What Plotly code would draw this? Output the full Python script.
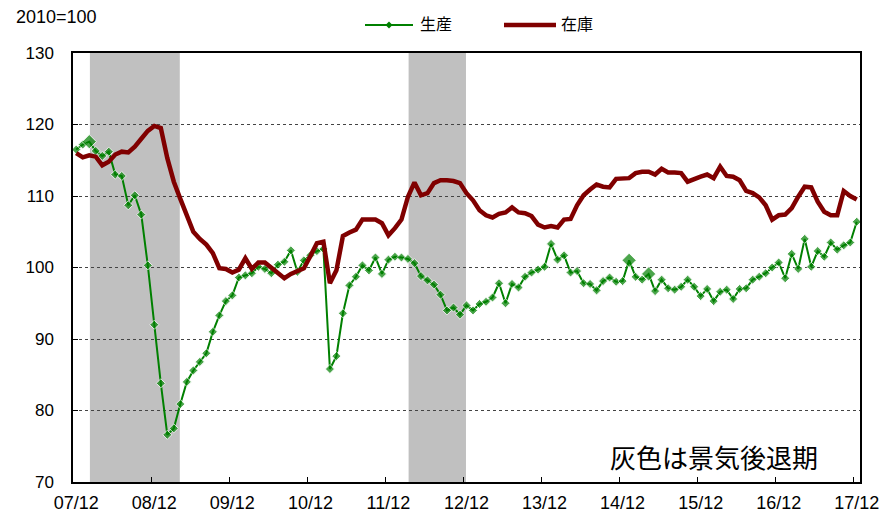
import plotly.graph_objects as go

# Monthly categories Dec 2007 .. Dec 2017
months = [f"{(2007 * 12 + 11 + i) // 12 % 100:02d}/{(11 + i) % 12 + 1:02d}" for i in range(121)]

production = [
    116.5, 117.2, 117.6, 116.3, 115.6, 116.2, 113.0, 112.8, 108.7, 110.1,
    107.4, 100.3, 92.0, 83.8, 76.6, 77.5, 80.9, 84.0, 85.6, 86.8,
    88.0, 91.0, 93.3, 95.3, 96.1, 98.6, 98.9, 99.2, 100.1, 99.8,
    99.2, 100.4, 100.8, 102.4, 99.4, 101.0, 101.7, 102.3, 102.6, 85.8,
    87.6, 93.6, 97.5, 98.7, 100.3, 99.6, 101.4, 99.1, 101.1, 101.5,
    101.4, 101.2, 100.6, 98.8, 98.2, 97.6, 96.2, 94.0, 94.4, 93.4,
    94.7, 94.0, 94.9, 95.2, 95.8, 97.8, 95.0, 97.7, 97.2, 98.7,
    99.3, 99.7, 100.1, 103.3, 101.1, 101.7, 99.3, 99.5, 97.8, 97.7,
    96.8, 98.1, 98.6, 98.0, 98.1, 101.0, 98.7, 98.3, 99.1, 96.7,
    98.3, 97.1, 96.9, 97.3, 98.3, 97.3, 96.0, 97.0, 95.3, 96.6,
    96.9, 95.6, 97.0, 97.1, 98.3, 98.7, 99.2, 100.0, 100.7, 98.5,
    101.9, 99.8, 104.0, 100.1, 102.3, 101.5, 103.5, 102.5, 103.1, 103.5,
    106.4,
]

inventory = [
    116.0, 115.4, 115.7, 115.5, 114.3, 114.8, 115.8, 116.2, 116.1, 116.9,
    118.0, 119.1, 119.8, 119.5, 115.3, 112.0, 109.6, 107.3, 105.0, 104.0,
    103.2, 102.0, 99.9, 99.8, 99.3, 99.7, 101.3, 99.8, 100.7, 100.7,
    99.9, 99.1, 98.5, 99.1, 99.5, 99.9, 101.6, 103.4, 103.6, 97.8,
    99.6, 104.4, 104.9, 105.3, 106.7, 106.7, 106.7, 106.2, 104.5, 105.5,
    106.7, 109.9, 111.9, 110.1, 110.4, 111.8, 112.2, 112.2, 112.1, 111.8,
    110.4, 109.4, 108.0, 107.3, 107.0, 107.5, 107.7, 108.4, 107.7, 107.6,
    107.2, 106.0, 105.6, 105.8, 105.6, 106.7, 106.8, 108.7, 110.1, 110.9,
    111.6, 111.3, 111.2, 112.4, 112.4, 112.5, 113.2, 113.4, 113.4, 113.0,
    113.8, 113.3, 113.3, 113.2, 112.0, 112.4, 112.7, 113.0, 112.5, 114.1,
    112.8, 112.7, 112.2, 110.7, 110.4, 109.8, 108.7, 106.7, 107.3, 107.4,
    108.3, 109.9, 111.3, 111.2, 109.2, 107.8, 107.3, 107.3, 110.7, 110.0,
    109.5,
]

tick_labels = ["07/12", "08/12", "09/12", "10/12", "11/12", "12/12",
               "13/12", "14/12", "15/12", "16/12", "17/12"]

series_names = ["生産", "在庫"]

# recession periods (peak month, trough month)
recessions = [("08/02", "09/03"), ("12/03", "12/11")]

# points drawn with enlarged markers in the original
big_points = ["08/02", "15/01", "15/04"]

x = list(range(len(months)))
tick_pos = [months.index(t) for t in tick_labels]
sizes = [11 if m in big_points else 7 for m in months]

GREEN = "#008000"
RED = "#800000"
FONT = "Liberation Sans, Arial, Noto Sans CJK JP, sans-serif"

# the page places the figure 8px from the window's top-left corner
OFF = 8
W, H = 890 - OFF, 514 - OFF
ML, MR, MT, MB = 73 - OFF, 30, 53 - OFF, 32
PW, PH = W - ML - MR, H - MT - MB


def px(xw):
    """window x pixel -> paper x"""
    return (xw - OFF - ML) / PW


def py(yw):
    """window y pixel -> paper y"""
    return (H - MB - (yw - OFF)) / PH


fig = go.Figure()

fig.add_trace(go.Scatter(
    x=x, y=production, name=series_names[0], mode="lines+markers",
    line=dict(color=GREEN, width=2),
    marker=dict(symbol="diamond", size=sizes, color=GREEN),
    showlegend=False,
))
fig.add_trace(go.Scatter(
    x=x, y=inventory, name=series_names[1], mode="lines",
    line=dict(color=RED, width=4.5),
    showlegend=False,
))
# helper trace for the boundary tick-mark axis
fig.add_trace(go.Scatter(x=[], y=[], xaxis="x2", showlegend=False, hoverinfo="skip"))

shapes = []
for p, t in recessions:
    shapes.append(dict(
        type="rect", xref="x", yref="paper",
        x0=months.index(p) + 0.1, x1=months.index(t) + 0.92, y0=0, y1=1,
        fillcolor="#C0C0C0", line=dict(width=0), layer="between",
    ))

# manual legend (in the top margin)
ly = py(25)
shapes.append(dict(type="line", xref="paper", yref="paper",
                   x0=px(365), x1=px(413), y0=ly, y1=ly,
                   line=dict(color=GREEN, width=2)))
cx, dx, dy = px(389), 3.5 / PW, 3.5 / PH
shapes.append(dict(type="path", xref="paper", yref="paper",
                   path=f"M {cx},{ly + dy} L {cx + dx},{ly} L {cx},{ly - dy} L {cx - dx},{ly} Z",
                   fillcolor=GREEN, line=dict(width=0)))
shapes.append(dict(type="line", xref="paper", yref="paper",
                   x0=px(504), x1=px(556), y0=ly, y1=ly,
                   line=dict(color=RED, width=4.5)))

annotations = [
    dict(text=series_names[0], xref="paper", yref="paper", x=px(418), y=ly,
         xanchor="left", yanchor="middle", showarrow=False, font=dict(size=16)),
    dict(text=series_names[1], xref="paper", yref="paper", x=px(559), y=ly,
         xanchor="left", yanchor="middle", showarrow=False, font=dict(size=16)),
    dict(text="2010=100", xref="paper", yref="paper", x=px(14), y=py(17),
         xanchor="left", yanchor="middle", showarrow=False, font=dict(size=18)),
    dict(text="灰色は景気後退期", xref="paper", yref="paper", x=px(714), y=py(456),
         xanchor="center", yanchor="middle", showarrow=False,
         font=dict(size=26, family="Noto Sans CJK JP")),
]

fig.update_layout(
    width=W, height=H,
    margin=dict(l=ML, r=MR, t=MT, b=MB, autoexpand=False),
    paper_bgcolor="white", plot_bgcolor="white",
    font=dict(family=FONT, color="black"),
    shapes=shapes,
    annotations=annotations,
    showlegend=False,
    xaxis=dict(
        range=[-0.5, len(months) - 0.5], tickmode="array",
        tickvals=tick_pos, ticktext=tick_labels, ticks="",
        tickfont=dict(size=18), showgrid=False, zeroline=False,
        showline=True, linecolor="black", linewidth=1.5, mirror=True,
        automargin=False, ticklabelstandoff=4,
    ),
    xaxis2=dict(
        overlaying="x", anchor="y", side="bottom",
        range=[-0.5, len(months) - 0.5], tickmode="array",
        tickvals=[v - 0.5 for v in tick_pos[1:]], ticks="inside", ticklen=5,
        tickcolor="black", showticklabels=False, showgrid=False,
        zeroline=False, showline=False, automargin=False,
    ),
    yaxis=dict(
        range=[70, 130], dtick=10, tick0=70, ticks="inside", ticklen=5,
        tickcolor="black", tickfont=dict(size=17),
        showgrid=True, gridcolor="#444444", griddash="dot", gridwidth=1,
        zeroline=False, showline=True, linecolor="black", linewidth=1.5, mirror=True,
        ticklabelstandoff=14, automargin=False,
    ),
)

fig.write_html("out.html")
